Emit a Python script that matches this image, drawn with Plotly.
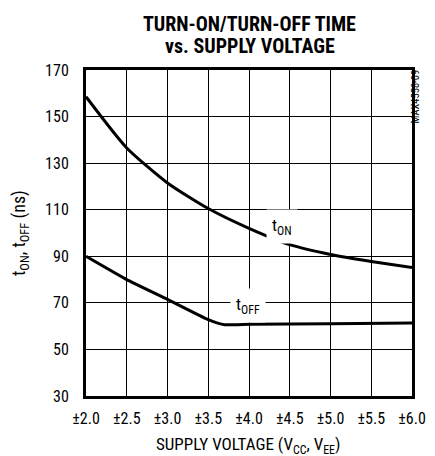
import plotly.graph_objects as go

# data
supply_v = [2.0, 2.5, 3.0, 3.5, 4.0, 4.5, 5.0, 5.5, 6.0]
t_on = [158.5, 136.5, 121.5, 110.5, 102.0, 95.0, 90.8, 87.8, 85.2]
toff_v = [2.0, 2.5, 3.0, 3.5, 3.7, 4.0, 5.0, 6.0]
t_off = [90.0, 80.0, 71.5, 62.8, 60.6, 60.8, 61.0, 61.3]
x_ticks = [2.0, 2.5, 3.0, 3.5, 4.0, 4.5, 5.0, 5.5, 6.0]
x_tick_text = ["±2.0", "±2.5", "±3.0", "±3.5", "±4.0", "±4.5", "±5.0", "±5.5", "±6.0"]
y_ticks = [30, 50, 70, 90, 110, 130, 150, 170]

FONT = "Roboto Condensed, Liberation Sans, Arial, sans-serif"

fig = go.Figure()
fig.add_trace(go.Scatter(x=supply_v, y=t_on, mode="lines",
                         line=dict(color="black", width=3, shape="spline", smoothing=0.6), hoverinfo="skip"))
fig.add_trace(go.Scatter(x=toff_v, y=t_off, mode="lines",
                         line=dict(color="black", width=3, shape="spline", smoothing=0.4), hoverinfo="skip"))

# curve labels
fig.add_annotation(x=4.40, y=103.0, text="t<sub>ON</sub>", showarrow=False, bgcolor="white", borderpad=5,
                   font=dict(family=FONT, size=17, color="black"))
fig.add_annotation(x=3.99, y=69.0, text="t<sub>OFF</sub>", showarrow=False, bgcolor="white", borderpad=5,
                   font=dict(family=FONT, size=17, color="black"))
# figure id
fig.add_annotation(xref="paper", yref="paper", x=1.0, xshift=11, y=1.0, yshift=-27, yanchor="middle",
                   text="MAX4558-09", textangle=-90, showarrow=False,
                   font=dict(family=FONT, size=10.5, color="black"))
# title
fig.add_annotation(xref="paper", yref="paper", x=0.503, y=1.0, yshift=47, yanchor="middle", height=21,
                   text="<b>TURN-ON/TURN-OFF TIME</b>", showarrow=False,
                   font=dict(family=FONT, size=20, color="black"))
fig.add_annotation(xref="paper", yref="paper", x=0.503, y=1.0, yshift=25, yanchor="middle", height=21,
                   text="<b>vs. SUPPLY VOLTAGE</b>", showarrow=False,
                   font=dict(family=FONT, size=20, color="black"))
# axis titles
fig.add_annotation(xref="paper", yref="paper", x=0.497, y=0.0, yshift=-49, yanchor="middle",
                   text="SUPPLY VOLTAGE (V<sub>CC</sub>, V<sub>EE</sub>)", showarrow=False,
                   font=dict(family=FONT, size=17, color="black"))
fig.add_annotation(xref="paper", yref="paper", x=0.0, xshift=-66, xanchor="center", y=0.5,
                   text="t<sub>ON</sub>, t<sub>OFF</sub> (ns)", textangle=-90, showarrow=False,
                   font=dict(family=FONT, size=18, color="black"))

# the page body adds an 8 px margin at left/top, so the figure is 8 px smaller and shifted
fig.update_layout(
    width=427, height=448,
    margin=dict(l=78, r=23, t=62, b=60, autoexpand=False),
    paper_bgcolor="white", plot_bgcolor="white",
    showlegend=False,
    font=dict(family=FONT, size=16, color="black"),
)
fig.update_xaxes(range=[2.0, 6.0], tickvals=x_ticks, ticktext=x_tick_text, showgrid=True,
                 gridcolor="black", gridwidth=1, showline=True, linecolor="black", linewidth=3, mirror=True,
                 ticks="", ticklabelstandoff=6, zeroline=False, automargin=False)
fig.update_yaxes(range=[30, 170], tickvals=y_ticks, showgrid=True, gridcolor="black", gridwidth=1,
                 showline=True, linecolor="black", linewidth=3, mirror=True, ticks="", ticklabelstandoff=11,
                 zeroline=False, automargin=False)

fig.write_html("out.html")
